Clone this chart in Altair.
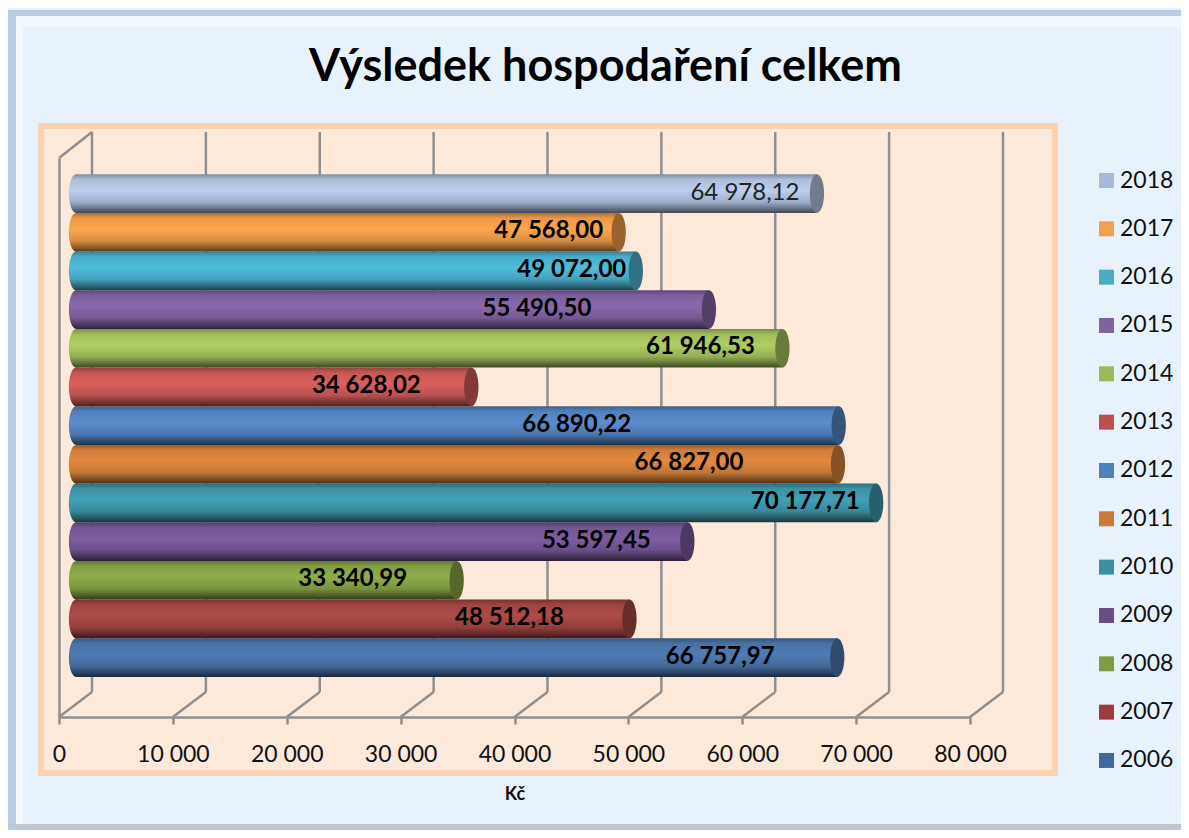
import altair as alt

years = ["2018","2017","2016","2015","2014","2013","2012","2011","2010","2009","2008","2007","2006"]
values = [64978.12,47568.00,49072.00,55490.50,61946.53,34628.02,66890.22,66827.00,70177.71,53597.45,33340.99,48512.18,66757.97]
labels = ["64 978,12","47 568,00","49 072,00","55 490,50","61 946,53","34 628,02","66 890,22","66 827,00","70 177,71","53 597,45","33 340,99","48 512,18","66 757,97"]
bar_colors = ["#BCCFEE","#FFA64D","#50BDDC","#8A68AE","#AFCE62","#D9605C","#5A8ECE","#E38A3E","#43A0B6","#7D5D9F","#90AD49","#AE4B49","#4F7CB5"]
legend_colors = ["#AAB9DA","#F79D52","#4BACC6","#8064A2","#9BBB59","#C0504D","#4F81BD","#C97A35","#3A8FA3","#6A4C87","#7F9C45","#9C3C3B","#3F6A9F"]
ticks = [0,10000,20000,30000,40000,50000,60000,70000,80000]

FONT = "Lato"
LINE = "#8F8F8F"
# manual placement of the data labels relative to the bar end, as in the original
label_dx = [-54,-52,-46,-154,-64,-87,-244,-131,-53,-73,-86,-102,-99]

def mix(c, f):
    r, g, b = int(c[1:3],16), int(c[3:5],16), int(c[5:7],16)
    return "#%02x%02x%02x" % (int(r*f), int(g*f), int(b*f))

def grad(c):
    return alt.Gradient(gradient="linear", x1=0, y1=0, x2=0, y2=1, stops=[
        alt.GradientStop(color=mix(c,.68), offset=0),
        alt.GradientStop(color=mix(c,.92), offset=.14),
        alt.GradientStop(color=c, offset=.42),
        alt.GradientStop(color=mix(c,.85), offset=.72),
        alt.GradientStop(color=mix(c,.36), offset=1),
    ])

X = alt.Scale(domain=[0,80000], nice=False, zero=False)
Y = alt.Scale(domain=years, paddingInner=0, paddingOuter=.728, align=.288)
ELLIPSE = "M0,-1 A0.37,1 0 1,1 0,1 A0.37,1 0 1,1 0,-1 Z"
CAP = 1490
SHIFT = 17
END_SHIFT = 18
blank = alt.Data(values=[{"k":1}])

def frame(x0, x1, y0, y1, **kw):
    return alt.Chart(blank).mark_rect(**kw).encode(
        x=alt.value(x0), x2=alt.value(x1), y=alt.value(y0), y2=alt.value(y1))

# bevel and panel, in view pixels
bevel = [
    frame(-51,-43,-148,672, color="#B8CCE4"),
    frame(-43,-36,-142,672, color="#F4F9FF"),
    frame(-51,1122,-148,-142, color="#B8CCE4"),
    frame(-43,1122,-142,-131, color="#F4F9FF"),
    frame(-43,1122,666,672, color="#BFC8D2"),
    frame(-18,996,-32,615, fill="#FDE9DA", stroke="#FDD3AF", strokeWidth=6),
]

tick_data = alt.Data(values=[{"t":t} for t in ticks])
axis_x = alt.Axis(values=ticks, labelExpr="replace(format(datum.value, ','), ',', ' ')",
                  labelFont=FONT, labelFontSize=23, labelColor="#111111", labelPadding=19,
                  labelFlush=False, labelOverlap=False,
                  tickColor=LINE, tickWidth=2.5, tickSize=7, domainColor=LINE, domainWidth=2.5,
                  grid=False, zindex=1, title="Kč", titleFont=FONT, titleFontSize=18,
                  titleFontWeight="bold", titleColor="#111111", titlePadding=19)
axis_y = alt.Axis(labels=False, ticks=False, title=None, domainColor=LINE, domainWidth=2.5, grid=False, zindex=1)
XF = lambda f: alt.X(f, scale=X, axis=axis_x)
YF = alt.Y("year:N", scale=Y, axis=axis_y)

walls = alt.Chart(tick_data).mark_rule(color=LINE, strokeWidth=2.5, xOffset=33).encode(
    x=XF("t:Q"), y=alt.value(-26), y2=alt.value(534))
diag = alt.Chart(tick_data).mark_rule(color=LINE, strokeWidth=2.5, x2Offset=33).encode(
    x=XF("t:Q"), x2="t:Q", y=alt.value(559), y2=alt.value(534))
top_diag = alt.Chart(alt.Data(values=[{"t":0}])).mark_rule(color=LINE, strokeWidth=2.5, x2Offset=33).encode(
    x=XF("t:Q"), x2="t:Q", y=alt.value(0), y2=alt.value(-26))

rows = [dict(year=y, value=v, zero=0, label=l) for y, v, l in zip(years, values, labels)]
cyl = []
for i, r in reversed(list(enumerate(rows))):
    d = alt.Data(values=[r])
    g = grad(bar_colors[i])
    cyl.append(alt.Chart(d).mark_point(filled=True, shape=ELLIPSE, size=CAP, fill=g, opacity=1, strokeWidth=0, xOffset=SHIFT)
               .encode(x=XF("zero:Q"), y=YF))
    cyl.append(alt.Chart(d).mark_bar(fill=g, xOffset=SHIFT, x2Offset=END_SHIFT)
               .encode(x=XF("zero:Q"), x2="value:Q", y=YF))
    cyl.append(alt.Chart(d).mark_point(filled=True, shape=ELLIPSE, size=CAP, fill=mix(bar_colors[i],.6), opacity=1, strokeWidth=0, xOffset=END_SHIFT)
               .encode(x=XF("value:Q"), y=YF))

texts = []
for i, r in enumerate(rows):
    texts.append(alt.Chart(alt.Data(values=[r])).mark_text(
        font=FONT, fontSize=24, fontWeight="normal" if i == 0 else "bold", color="#222222" if i == 0 else "#000000",
        dx=label_dx[i], dy=-1, align="center", baseline="middle").encode(
        x=XF("value:Q"), y=YF, text="label:N"))

legend_layer = alt.Chart(alt.Data(values=rows)).mark_point(opacity=0, filled=True, shape="square").encode(
    x=XF("value:Q"),
    y=YF,
    color=alt.Color("year:N", scale=alt.Scale(domain=years, range=legend_colors), legend=alt.Legend(
        orient="none", legendX=1036, legendY=11, title=None, symbolType="square", symbolSize=225,
        symbolOpacity=1, symbolStrokeWidth=0, labelFont=FONT, labelFontSize=23, labelColor="#111111",
        rowPadding=24.33, labelOffset=2, values=years)),
)

chart = alt.layer(*bevel, walls, diag, top_diag, *cyl, *texts, legend_layer).properties(
    width=911, height=559,
    padding={"left":51,"top":150,"right":211,"bottom":113},
    autosize=alt.AutoSizeParams(type="none"),
    background="#E8F2FD",
    title=alt.TitleParams("Výsledek hospodaření celkem", font=FONT, fontSize=45, fontWeight="bold",
                          color="#000000", anchor="middle", dx=91, offset=-80),
).configure_view(stroke=None)

chart.save("out.html", embed_options={"renderer": "svg", "actions": False})
